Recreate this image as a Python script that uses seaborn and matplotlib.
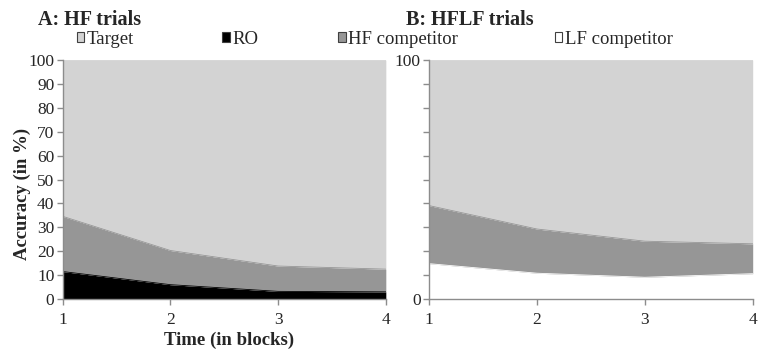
import matplotlib
matplotlib.use("Agg")
import matplotlib.pyplot as plt
from matplotlib.patches import Patch
import seaborn as sns
import pandas as pd

# Accuracy (%) per block, stacked from the bottom up
blocks = [1, 2, 3, 4]

hf_ro = [11.5, 6.0, 3.2, 3.0]
hf_competitor = [23.1, 14.3, 10.6, 9.5]
hf_target = [65.4, 79.7, 86.2, 87.5]

hflf_lf = [14.8, 10.8, 9.1, 10.6]
hflf_hf = [24.3, 18.5, 15.1, 12.5]
hflf_target = [60.9, 70.7, 75.8, 76.9]

series_names = ["Target", "RO", "HF competitor", "LF competitor"]
colors = {"Target": "#d3d3d3", "RO": "#000000",
          "HF competitor": "#969696", "LF competitor": "#ffffff"}

sns.set_theme(style="white")
plt.rcParams["font.family"] = ["Liberation Serif", "DejaVu Serif"]

fig = plt.figure(figsize=(7.58, 3.62), dpi=100)
axA = fig.add_axes([0.0827, 0.174, 0.4263, 0.660])
axB = fig.add_axes([0.566, 0.174, 0.427, 0.660])

spine_col = "#8c8c8c"


def draw_stack(ax, layers):
    df = pd.DataFrame({"block": blocks})
    bottom = [0.0] * len(blocks)
    for name, vals in layers:
        top = [b + v for b, v in zip(bottom, vals)]
        ax.fill_between(blocks, bottom, top, color=colors[name], lw=0)
        df[name] = top
        sns.lineplot(data=df, x="block", y=name, ax=ax, color=colors[name],
                     lw=0.6, legend=False)
        bottom = top
    ax.set_xlim(1, 4)
    ax.set_ylim(0, 100)
    ax.set_xticks(blocks)
    for s in ["top", "right"]:
        ax.spines[s].set_visible(False)
    for s in ["left", "bottom"]:
        ax.spines[s].set_color(spine_col)
        ax.spines[s].set_linewidth(1.0)
    ax.tick_params(axis="both", direction="out", length=4, width=1.0,
                   color=spine_col, labelsize=12.5, pad=2,
                   bottom=True, left=True)
    ax.tick_params(axis="x", pad=5.5)
    ax.set_xlabel("")
    ax.set_ylabel("")


draw_stack(axA, [("RO", hf_ro), ("HF competitor", hf_competitor),
                 ("Target", hf_target)])
axA.set_yticks(range(0, 101, 10))
axA.set_ylabel("Accuracy (in %)", fontsize=13.5, fontweight="bold",
               va="center")
axA.yaxis.set_label_coords(-0.124, 0.44)
axA.set_xlabel("Time (in blocks)", fontsize=13.5, fontweight="bold",
               va="center")
axA.xaxis.set_label_coords(0.514, -0.172)

draw_stack(axB, [("LF competitor", hflf_lf), ("HF competitor", hflf_hf),
                 ("Target", hflf_target)])
axB.set_yticks(range(0, 101, 10))
axB.set_yticklabels(["0"] + [""] * 9 + ["100"])

fig.text(0.050, 0.944, "A: HF trials", fontsize=14.5, fontweight="bold",
         va="center", ha="left")
fig.text(0.536, 0.944, "B: HFLF trials", fontsize=14.5, fontweight="bold",
         va="center", ha="left")

# one legend entry per series, spread across the top
legend_x = [0.101, 0.293, 0.446, 0.732]
for name, x in zip(series_names, legend_x):
    h = Patch(facecolor=colors[name], edgecolor="#404040", lw=0.8)
    fig.legend([h], [name], loc="center left", bbox_to_anchor=(x, 0.892),
               frameon=False, fontsize=13.5, handlelength=0.4,
               handleheight=0.4, handletextpad=0.15, borderpad=0,
               borderaxespad=0)

fig.savefig("out.png", dpi=100)
